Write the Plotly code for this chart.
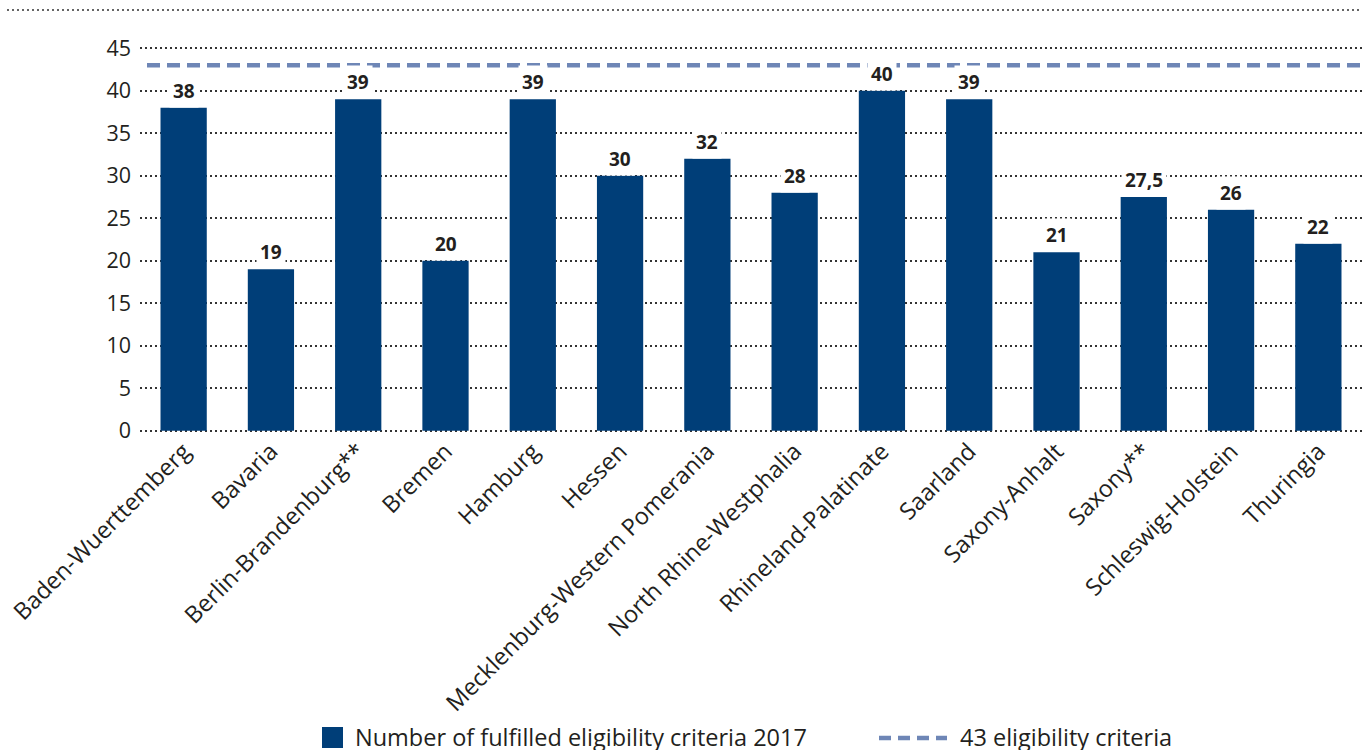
import plotly.graph_objects as go

# Federal states and the number of eligibility criteria each fulfilled in 2017
states = [
    "Baden-Wuerttemberg", "Bavaria", "Berlin-Brandenburg**", "Bremen", "Hamburg",
    "Hessen", "Mecklenburg-Western Pomerania", "North Rhine-Westphalia",
    "Rhineland-Palatinate", "Saarland", "Saxony-Anhalt", "Saxony**",
    "Schleswig-Holstein", "Thuringia",
]
fulfilled = [38, 19, 39, 20, 39, 30, 32, 28, 40, 39, 21, 27.5, 26, 22]
total_criteria = 43
y_ticks = [0, 5, 10, 15, 20, 25, 30, 35, 40, 45]

bar_name = "Number of fulfilled eligibility criteria 2017"
line_name = "43 eligibility criteria"

BAR_COLOR = "#003e78"
LINE_COLOR = "#6e86b6"
TEXT_COLOR = "#231f20"
GRID_COLOR = "#333333"
FONT = "Open Sans"

W, H = 1371, 750
M_L, M_R, M_T, M_B = 140, 9, 47, 318
PW, PH = W - M_L - M_R, H - M_T - M_B


def px_x(px):
    return (px - M_L) / PW


def px_y(py):
    return (H - M_B - py) / PH


def fmt(v):
    return str(int(v)) if float(v).is_integer() else str(v).replace(".", ",")


fig = go.Figure()
fig.add_trace(go.Bar(
    x=states, y=fulfilled, marker=dict(color=BAR_COLOR, line_width=0),
    width=0.53, showlegend=False, hoverinfo="x+y",
))

# value labels on white boxes above the bars
for s, v in zip(states, fulfilled):
    fig.add_annotation(
        x=s, y=v, xref="x", yref="y", text=f"<b>{fmt(v)}</b>",
        showarrow=False, yanchor="bottom", yshift=0,
        font=dict(family=FONT, size=19, color=TEXT_COLOR),
        bgcolor="white", borderpad=3,
    )

shapes = [
    # reference line at the total number of criteria
    dict(type="line", xref="paper", yref="y", x0=px_x(147), x1=1,
         y0=total_criteria, y1=total_criteria,
         line=dict(color=LINE_COLOR, width=4.5, dash="13px,7px"), layer="below"),
    # dotted rule along the top of the figure
    dict(type="line", xref="paper", yref="paper", x0=px_x(7), x1=px_x(1362),
         y0=px_y(10), y1=px_y(10),
         line=dict(color=GRID_COLOR, width=1.5, dash="2px,3px")),
    # legend swatch for the bars
    dict(type="rect", xref="paper", yref="paper", x0=px_x(322), x1=px_x(343),
         y0=px_y(748), y1=px_y(727), fillcolor=BAR_COLOR, line_width=0),
    # legend swatch for the reference line
    dict(type="line", xref="paper", yref="paper", x0=px_x(879), x1=px_x(947),
         y0=px_y(738), y1=px_y(738),
         line=dict(color=LINE_COLOR, width=4.5, dash="12px,7px")),
]

fig.add_annotation(x=px_x(353), y=px_y(737), xref="paper", yref="paper",
                   text=bar_name, showarrow=False, xanchor="left", yanchor="middle",
                   font=dict(family=FONT, size=23.5, color=TEXT_COLOR))
fig.add_annotation(x=px_x(958), y=px_y(737), xref="paper", yref="paper",
                   text=line_name, showarrow=False, xanchor="left", yanchor="middle",
                   font=dict(family=FONT, size=23.5, color=TEXT_COLOR))

fig.update_layout(
    width=W, height=H,
    margin=dict(l=M_L, r=M_R, t=M_T, b=M_B, autoexpand=False),
    paper_bgcolor="white", plot_bgcolor="white",
    shapes=shapes, showlegend=False,
    font=dict(family=FONT, color=TEXT_COLOR),
)
fig.update_xaxes(
    range=[-0.5, len(states) - 0.5], tickangle=-45, showgrid=False,
    showline=False, ticks="", tickfont=dict(family=FONT, size=23.5, color=TEXT_COLOR),
)
fig.update_yaxes(
    range=[-0.15, 45.15], tickvals=y_ticks, showgrid=True, gridcolor=GRID_COLOR,
    gridwidth=1.5, griddash="2px,3px", zeroline=False, showline=False, ticks="",
    ticklabelstandoff=8, tickfont=dict(family=FONT, size=21.5, color=TEXT_COLOR),
)

fig.write_html("out.html")
